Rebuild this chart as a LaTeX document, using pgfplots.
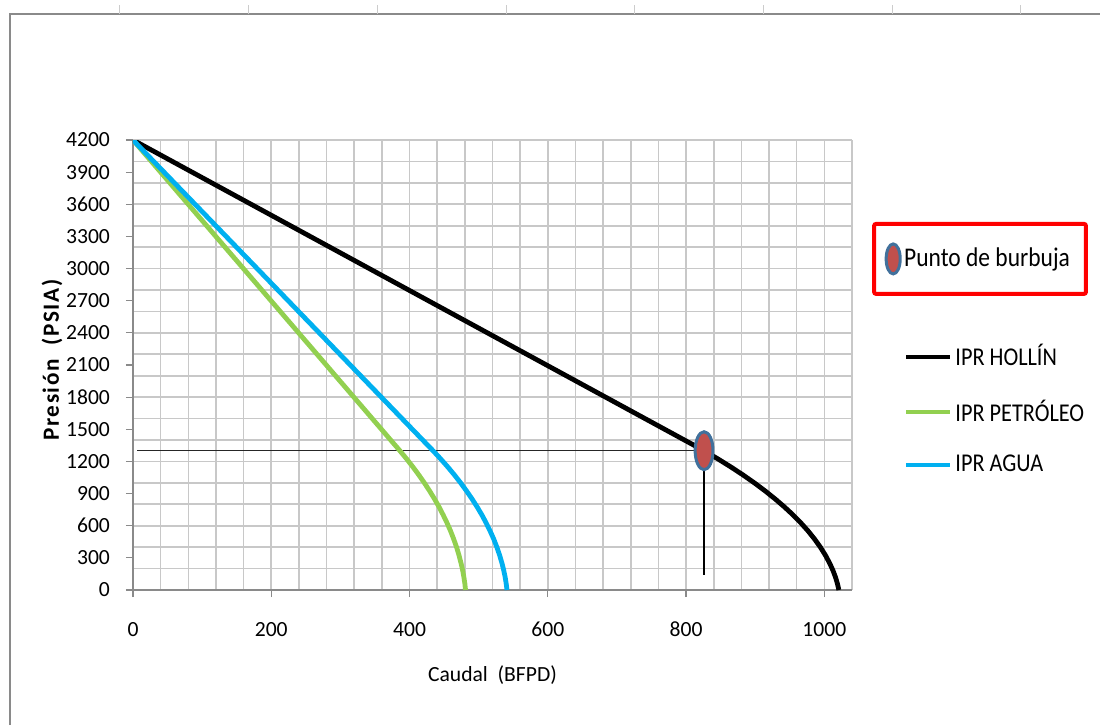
\documentclass[border=0pt]{standalone}
\usepackage{pgfplots}
\usepackage{pgfplotstable}
\pgfplotsset{compat=1.18}
\usepackage{fontspec}
\setmainfont{Carlito}
\newfontfamily\legfont[FakeStretch=0.87]{Carlito}
\newfontfamily\ylabfont[LetterSpace=7]{Carlito}
\newcommand{\tickfont}{\fontsize{10.8}{12}\selectfont}
\newcommand{\legtext}{\legfont\fontsize{12.8}{14}\selectfont}

\definecolor{ipgreen}{HTML}{92D050}
\definecolor{ipblue}{HTML}{00B0F0}
\definecolor{gridgray}{HTML}{C8C8C8}
\definecolor{bubfill}{HTML}{C0504D}
\definecolor{bubedge}{HTML}{41719C}
\definecolor{axgray}{HTML}{8A8A8A}

\pgfplotstableread{
q p
0 4200
826 1300
845.7 1225
864.4 1150
882.1 1075
898.7 1000
914.3 925
928.8 850
942.3 775
954.8 700
966.2 625
976.6 550
985.9 475
994.2 400
1001.5 325
1007.7 250
1012.3 185
1016.1 120
1018.9 60
1021 0
}\hollin

\pgfplotstableread{
q p
0 4200
386 1300
395.6 1225
404.7 1150
413.3 1075
421.4 1000
429.0 925
436.1 850
442.7 775
448.7 700
454.3 625
459.4 550
463.9 475
468.0 400
471.5 325
474.5 250
476.8 185
478.6 120
480.0 60
481 0
}\petroleo

\pgfplotstableread{
q p
0 4200
434 1300
444.8 1225
455.1 1150
464.8 1075
473.9 1000
482.4 925
490.4 850
497.8 775
504.7 700
510.9 625
516.6 550
521.8 475
526.3 400
530.3 325
533.7 250
536.2 185
538.3 120
539.8 60
541 0
}\agua

\begin{document}
\begin{tikzpicture}
\useasboundingbox (0,0) rectangle (550pt,362.5pt);
\draw[axgray, line width=1pt] (5pt,0pt) -- (5pt,355.5pt) -- (550pt,355.5pt);
\foreach \xx in {59.5,124,188.5,253,317,381.5,446,510}
  \draw[gray!40, line width=0.5pt] (\xx pt,355.5pt) -- (\xx pt,360pt);

\pgfplotsset{
  common/.style={
    at={(66.5pt,67.5pt)}, anchor=south west,
    scale only axis, width=359.5pt, height=225pt,
    xmin=0, xmax=1040, ymin=0, ymax=4200,
  }
}

\begin{axis}[
  common,
  axis lines*=left,
  xtick={0,200,...,1000}, ytick={0,300,...,4200},
  minor xtick={0,40,...,1040}, minor ytick={0,200,...,4200},
  grid=minor,
  minor grid style={gridgray, line width=0.8pt},
  minor tick length=0pt, major tick length=3.5pt, tick align=outside,
  tick style={color=axgray, line width=0.6pt},
  axis line style={color=axgray, line width=0.8pt},
  scaled ticks=false,
  xticklabel={\tickfont\pgfmathprintnumber[1000 sep={},assume math mode=true]{\tick}},
  yticklabel={\tickfont\pgfmathprintnumber[1000 sep={},assume math mode=true]{\tick}},
  typeset ticklabels with strut,
  xticklabel style={yshift=-9pt},
  yticklabel style={xshift=-4.5pt},
  xlabel={Caudal\ \ (BFPD)},
  ylabel={\ylabfont\bfseries Presión\ \ (PSIA)},
  every axis x label/.style={at={(axis description cs:0.5,-0.189)}, anchor=center, font=\fontsize{10.8}{12}\selectfont},
  every axis y label/.style={at={(axis description cs:-0.1127,0.511)}, rotate=90, anchor=center, font=\fontsize{11.6}{13}\selectfont},
  legend style={at={(1.064,0.562)}, anchor=north west, draw=none, fill=none,
    row sep=12.5pt, nodes={inner sep=1.5pt}},
  legend cell align=left,
  legend image code/.code={\draw[#1, line width=2pt] (0pt,0pt) -- (22pt,0pt);},
]
\addplot[black!85, line width=0.6pt, forget plot] coordinates {(6,1300) (826,1300)};
\addplot[black, line width=0.6pt, forget plot] coordinates {(826,1300) (826,140)};
\addplot[black, line width=2.4pt] table[x=q, y=p] {\hollin};
\addlegendentry{\legtext IPR HOLLÍN}
\addplot[ipgreen, line width=2.4pt] table[x=q, y=p] {\petroleo};
\addlegendentry{\legtext IPR PETRÓLEO}
\addplot[ipblue, line width=2.4pt] table[x=q, y=p] {\agua};
\addlegendentry{\legtext IPR AGUA}
\end{axis}

\begin{axis}[
  common,
  hide axis,
  legend style={at={(1.028,0.818)}, anchor=north west, draw=red, line width=2pt,
    rounded corners=1pt, fill=white,
    inner xsep=6pt, inner ysep=10pt},
  legend image code/.code={\draw[#1, mark size=7.5pt] plot coordinates {(0pt,0pt)};},
]
\addplot[only marks, mark=*, mark size=9.5pt,
  mark options={xscale=0.47, fill=bubfill, draw=bubedge, line width=1.5pt}]
  coordinates {(826,1300)};
\addlegendentry{\legfont\fontsize{13.5}{15}\selectfont Punto de burbuja}
\end{axis}
\end{tikzpicture}
\end{document}
